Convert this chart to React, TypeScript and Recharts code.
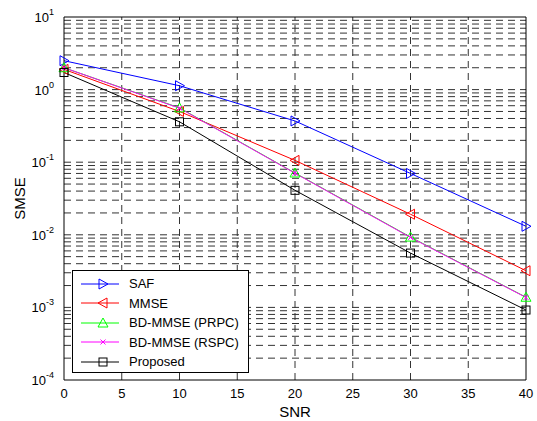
import React from 'react';
import { LineChart, Line, XAxis, YAxis, ReferenceLine } from 'recharts';

const snr = [0, 10, 20, 30, 40];
const saf = [2.5, 1.13, 0.37, 0.07, 0.0131];
const mmse = [1.9, 0.5, 0.106, 0.0192, 0.0032];
const bdPrpc = [2.0, 0.56, 0.071, 0.0093, 0.00138];
const bdRspc = [2.0, 0.555, 0.0705, 0.0092, 0.00137];
const proposed = [1.72, 0.36, 0.041, 0.0056, 0.00092];

const xTicks = [0, 5, 10, 15, 20, 25, 30, 35, 40];
const yTicks = [1e-4, 1e-3, 1e-2, 1e-1, 1, 10];
const gridX = [5, 10, 15, 20, 25, 30, 35];

// log grid: 1..9 x each decade
const gridY: number[] = [];
for (let e = -4; e <= 0; e++) {
  for (let m = 1; m <= 9; m++) {
    const v = m * Math.pow(10, e);
    if (v > 1e-4) gridY.push(v);
  }
}

const data = snr.map((s, i) => ({
  snr: s,
  saf: saf[i],
  mmse: mmse[i],
  prpc: bdPrpc[i],
  rspc: bdRspc[i],
  proposed: proposed[i],
}));

const FONT = '"Liberation Sans", Arial, sans-serif';

type Shape = 'right' | 'left' | 'up' | 'x' | 'square';

const Marker = ({ cx, cy, shape, color }: { cx: number; cy: number; shape: Shape; color: string }) => {
  if (shape === 'right')
    return <polygon points={`${cx - 4},${cy - 5} ${cx - 4},${cy + 5} ${cx + 5},${cy}`} fill='none' stroke={color} />;
  if (shape === 'left')
    return <polygon points={`${cx + 4},${cy - 5} ${cx + 4},${cy + 5} ${cx - 5},${cy}`} fill='none' stroke={color} />;
  if (shape === 'up')
    return <polygon points={`${cx},${cy - 5} ${cx - 5},${cy + 4} ${cx + 5},${cy + 4}`} fill='none' stroke={color} />;
  if (shape === 'x')
    return (
      <path d={`M${cx - 2.5},${cy - 2.5}L${cx + 2.5},${cy + 2.5}M${cx - 2.5},${cy + 2.5}L${cx + 2.5},${cy - 2.5}`} stroke={color} />
    );
  return <rect x={cx - 4} y={cy - 4} width={8} height={8} fill='none' stroke={color} />;
};

const series: { key: string; name: string; color: string; shape: Shape }[] = [
  { key: 'saf', name: 'SAF', color: '#0000ff', shape: 'right' },
  { key: 'mmse', name: 'MMSE', color: '#ff0000', shape: 'left' },
  { key: 'prpc', name: 'BD-MMSE (PRPC)', color: '#00ff00', shape: 'up' },
  { key: 'rspc', name: 'BD-MMSE (RSPC)', color: '#ff00ff', shape: 'x' },
  { key: 'proposed', name: 'Proposed', color: '#000000', shape: 'square' },
];

const YTick = (props: any) => {
  const { x, y, payload } = props;
  const exp = Math.round(Math.log10(payload.value));
  return (
    <text x={x - 2} y={y + 5} textAnchor='end' fontSize={13} fontFamily={FONT} fill='#000'>
      10
      <tspan dy={-7} fontSize={9}>
        {exp}
      </tspan>
    </text>
  );
};

const XTick = (props: any) => {
  const { x, y, payload } = props;
  return (
    <text x={x} y={y + 10} textAnchor='middle' fontSize={13} fontFamily={FONT} fill='#000'>
      {payload.value}
    </text>
  );
};

export default function App() {
  return (
    <div style={{ position: 'absolute', left: 0, top: 0, width: 537, height: 421, background: '#fff' }}>
      <LineChart width={537} height={421} data={data} margin={{ top: 17, right: 11, left: 0, bottom: 0 }}>
        <XAxis
          dataKey='snr'
          type='number'
          domain={[0, 40]}
          ticks={xTicks}
          tick={<XTick />}
          tickLine={false}
          axisLine={{ stroke: '#000' }}
          height={41}
          label={{ value: 'SNR', position: 'insideBottom', offset: 4, fontSize: 15, fontFamily: FONT, fill: '#000' }}
        />
        <YAxis
          scale='log'
          domain={[1e-4, 10]}
          ticks={yTicks}
          allowDataOverflow
          tick={<YTick />}
          tickLine={false}
          axisLine={{ stroke: '#000' }}
          width={64}
          label={{ value: 'SMSE', angle: -90, position: 'insideLeft', offset: 20, fontSize: 15, fontFamily: FONT, fill: '#000', style: { textAnchor: 'middle' } }}
        />
        {gridY.map(v => (
          <ReferenceLine key={`gy-${v}`} y={v} stroke='#333' strokeDasharray='7 5' />
        ))}
        {gridX.map(v => (
          <ReferenceLine key={`gx-${v}`} x={v} stroke='#333' strokeDasharray='7 5' />
        ))}
        <ReferenceLine y={10} stroke='#000' />
        <ReferenceLine x={40} stroke='#000' />
        {series.map(s => (
          <Line
            key={s.key}
            dataKey={s.key}
            name={s.name}
            stroke={s.color}
            strokeWidth={1}
            isAnimationActive={false}
            dot={(p: any) => <Marker key={`${s.key}-${p.index}`} cx={p.cx} cy={p.cy} shape={s.shape} color={s.color} />}
            activeDot={false}
          />
        ))}
      </LineChart>
      <div
        style={{
          position: 'absolute',
          left: 72,
          top: 270,
          width: 177,
          height: 103,
          border: '1px solid #000',
          background: '#fff',
          boxSizing: 'border-box',
          fontFamily: FONT,
          fontSize: 13,
          paddingTop: 3,
        }}
      >
        {series.map(s => (
          <div key={s.key} style={{ display: 'flex', alignItems: 'center', height: 19.5 }}>
            <svg width={50} height={14} style={{ marginLeft: 6, flexShrink: 0 }}>
              <line x1={2} y1={7} x2={40} y2={7} stroke={s.color} />
              <Marker cx={24} cy={7} shape={s.shape} color={s.color} />
            </svg>
            <span>{s.name}</span>
          </div>
        ))}
      </div>
    </div>
  );
}
